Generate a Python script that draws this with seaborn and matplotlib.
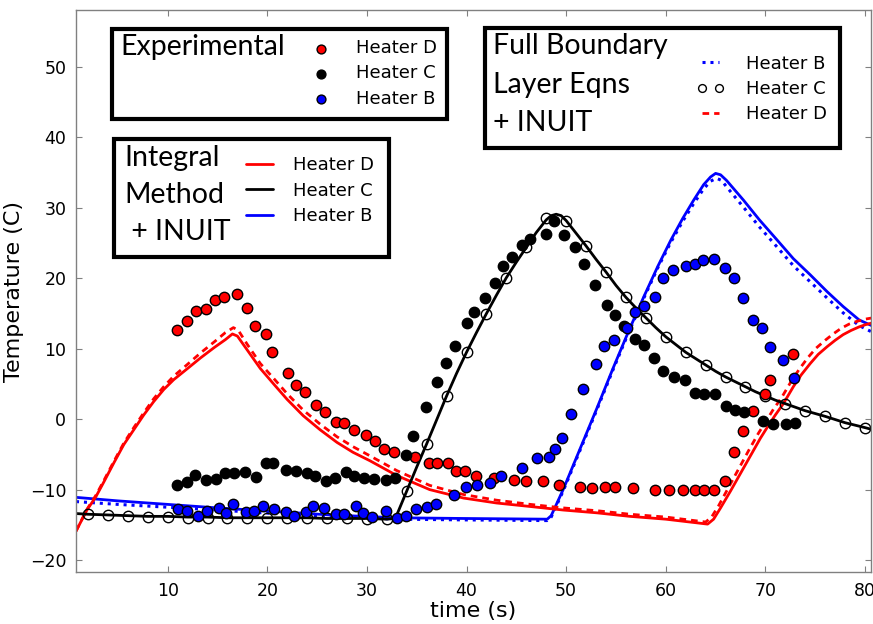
import matplotlib
matplotlib.use("Agg")
import matplotlib.pyplot as plt
from matplotlib.patches import Rectangle
import seaborn as sns

# --- experimental data (filled dots) ---
exp_d_t = [10.9, 11.9, 12.8, 13.8, 14.8, 15.7, 17.0, 18.0, 18.8, 19.9, 20.5, 22.1, 22.9, 23.8,
           24.9, 25.8, 26.9, 27.7, 28.7, 29.9, 30.8, 31.7, 32.7, 34.8, 36.2, 37.0, 38.1, 38.9,
           39.8, 41.0, 42.8, 44.8, 46.0, 47.7, 49.3, 51.4, 52.6, 53.9, 54.9, 56.7, 58.9, 60.3,
           61.7, 62.9, 63.8, 64.8, 65.9, 66.8, 67.8, 68.8, 70.0, 70.5, 72.8]
exp_d_T = [12.6, 13.9, 15.3, 15.6, 16.9, 17.4, 17.8, 15.8, 13.3, 12.1, 9.5, 6.5, 4.9, 3.8,
           2.0, 1.0, -0.4, -0.6, -1.5, -2.3, -3.1, -4.2, -4.6, -5.4, -6.2, -6.2, -6.2, -7.4,
           -7.4, -8.0, -8.4, -8.6, -8.8, -8.8, -9.4, -9.6, -9.8, -9.7, -9.6, -9.8, -10.0, -10.0,
           -10.0, -10.0, -10.0, -10.1, -8.8, -4.7, -1.7, 1.1, 3.6, 5.5, 9.3]

exp_c_t = [10.9, 11.9, 12.7, 13.8, 14.9, 15.8, 16.7, 17.8, 18.9, 19.9, 20.6, 21.9, 22.9, 24.0,
           24.8, 25.9, 26.8, 27.9, 28.7, 29.7, 30.7, 31.9, 32.8, 33.9, 34.6, 35.9, 37.0, 37.9,
           38.8, 40.0, 40.8, 41.9, 42.9, 43.7, 44.6, 45.6, 46.4, 48.0, 48.8, 49.8, 50.9, 51.8,
           52.9, 54.1, 54.9, 55.8, 56.9, 57.8, 58.8, 59.7, 60.8, 61.9, 62.9, 63.8, 64.9, 66.0,
           66.9, 67.9, 69.8, 70.8, 72.1, 73.0]
exp_c_T = [-9.4, -8.9, -7.9, -8.6, -8.5, -7.7, -7.7, -7.5, -8.2, -6.2, -6.2, -7.2, -7.4, -7.7,
           -8.1, -8.8, -8.4, -7.5, -8.0, -8.4, -8.5, -8.7, -8.3, -5.1, -2.4, 1.7, 5.3, 8.0,
           10.4, 13.6, 15.2, 17.2, 19.3, 21.8, 23.0, 24.7, 25.6, 26.3, 28.2, 26.1, 24.5, 22.0,
           19.1, 16.2, 14.8, 13.3, 11.4, 10.6, 8.7, 6.8, 6.0, 5.6, 3.7, 3.6, 3.6, 1.8,
           1.3, 1.0, -0.3, -0.7, -0.7, -0.5]

exp_b_t = [11.0, 11.9, 13.0, 13.9, 15.2, 15.9, 16.6, 17.9, 18.7, 19.6, 20.7, 21.9, 22.7, 23.9,
           24.6, 25.7, 26.9, 27.7, 28.9, 29.6, 30.5, 31.9, 33.0, 33.9, 34.9, 36.0, 36.9, 38.7,
           39.9, 41.1, 42.4, 43.5, 45.6, 47.1, 48.3, 48.9, 49.6, 50.5, 51.7, 53.0, 53.8, 54.8,
           56.1, 56.9, 57.8, 58.9, 59.7, 60.7, 62.0, 62.9, 63.7, 64.8, 65.9, 66.8, 67.8, 68.8,
           69.7, 70.5, 71.8, 72.9]
exp_b_T = [-12.8, -13.0, -13.7, -13.0, -12.6, -13.3, -12.1, -13.2, -13.1, -12.3, -12.7, -13.2,
           -13.7, -13.2, -12.3, -12.6, -13.5, -13.4, -12.3, -13.3, -13.9, -13.1, -14.0, -13.8,
           -12.7, -12.5, -12.1, -10.8, -9.7, -9.4, -9.1, -8.1, -6.9, -5.5, -5.4, -4.3, -2.7,
           0.7, 4.3, 7.8, 10.4, 11.2, 13.0, 15.2, 16.0, 17.3, 20.0, 21.2, 21.8, 22.1, 22.6,
           22.8, 21.5, 20.1, 17.2, 14.1, 13.0, 10.2, 8.4, 5.8]

# --- integral method + INUIT (solid lines) ---
int_d_t = [0.8, 1.9, 2.8, 3.6, 4.6, 5.6, 6.6, 7.6, 8.6, 9.6, 10.6, 12.0, 13.3, 14.7, 15.8, 16.5,
           17.0, 18.0, 19.3, 20.7, 22.0, 23.6, 25.3, 27.0, 28.6, 30.3, 33.0, 36.3, 39.7, 43.0,
           46.4, 49.7, 53.1, 56.4, 60.0, 64.2, 64.8, 65.5, 66.5, 67.5, 68.5, 69.5, 70.3, 71.0,
           71.8, 72.8, 73.6, 74.5, 75.3, 76.2, 77.0, 77.8, 78.6, 79.4, 80.0, 80.8]
int_d_T = [-15.9, -12.9, -11.0, -8.9, -6.2, -3.6, -1.5, 0.6, 2.5, 4.2, 5.6, 7.2, 8.7, 10.2, 11.3, 12.1,
           11.8, 9.8, 7.2, 4.9, 2.8, 0.5, -1.5, -3.3, -4.7, -5.9, -8.0, -10.0, -11.2, -11.9,
           -12.4, -12.9, -13.3, -13.8, -14.2, -14.9, -14.2, -12.6, -10.2, -7.7, -5.2, -2.7, -0.9, 0.6,
           2.2, 4.6, 6.3, 7.9, 9.2, 10.3, 11.2, 12.0, 12.6, 13.1, 13.4, 13.7]

int_c_t = [0.8, 2, 4, 6, 8, 10, 12, 14, 16, 18, 20, 22, 24, 26, 28, 30, 32, 32.8, 33, 34, 35, 36,
           37, 38, 39, 40, 41, 42, 43, 44, 45, 46, 47, 48, 48.5, 49, 49.5, 50, 51, 52, 53, 54,
           55, 56, 57, 58, 59, 60, 61, 62, 63, 64, 65, 66, 67, 68, 69, 70, 71, 72, 73, 74, 75,
           76, 77, 78, 79, 80, 80.8]
int_c_T = [-13.4, -13.5, -13.6, -13.7, -13.8, -13.8, -13.9, -13.9, -14.0, -14.0, -14.0, -14.0,
           -14.0, -14.1, -14.1, -14.1, -14.2, -14.1, -13.6, -10.2, -6.8, -3.5, -0.1, 3.3, 6.5,
           9.5, 12.3, 15.0, 17.6, 20.1, 22.3, 24.4, 26.5, 28.3, 28.9, 29.1, 28.9, 28.2, 26.4,
           24.6, 22.7, 20.9, 19.0, 17.3, 15.8, 14.4, 13.0, 11.7, 10.6, 9.5, 8.6, 7.7, 6.8, 6.0,
           5.3, 4.6, 3.9, 3.3, 2.7, 2.2, 1.7, 1.2, 0.8, 0.4, -0.05, -0.5, -0.85, -1.2, -1.5]

int_b_t = [0.8, 5, 10, 15, 20.7, 26.3, 33.0, 39.7, 48.1, 48.5, 49.7, 51.4, 53.1, 54.7, 56.3, 57.8,
           59.2, 60.5, 61.7, 62.8, 63.8, 64.5, 65.0, 65.5, 66.1, 67.8, 69.4, 71.2, 72.8, 74.5,
           76.2, 77.8, 79.4, 80.8]
int_b_T = [-11.1, -11.6, -12.1, -12.6, -13.1, -13.6, -14.0, -14.1, -14.2, -13.7, -10.0, -4.2, 1.6,
           7.2, 12.6, 17.4, 21.7, 25.4, 28.5, 31.1, 33.3, 34.4, 34.9, 34.7, 33.9, 31.1, 28.3,
           25.4, 22.8, 20.5, 18.1, 16.0, 14.1, 13.2]

# --- full boundary layer eqns + INUIT ---
fbl_b_t = [0.8, 5, 10, 15, 20.7, 26.3, 33.0, 39.7, 48.1, 48.5, 49.7, 51.4, 53.1, 54.7, 56.3, 57.8,
           59.2, 60.5, 61.7, 62.8, 63.8, 64.5, 65.1, 65.6, 66.1, 67.8, 69.4, 71.2, 72.8, 74.5,
           76.2, 77.8, 79.4, 80.8]
fbl_b_T = [-11.7, -12.1, -12.5, -12.9, -13.4, -13.8, -14.2, -14.3, -14.4, -13.9, -10.2, -4.4, 1.4,
           7.0, 12.4, 17.2, 21.5, 25.1, 28.1, 30.6, 32.7, 33.8, 34.2, 33.9, 33.0, 30.1, 27.3,
           24.4, 21.8, 19.5, 17.2, 15.1, 13.3, 12.3]

fbl_c_t = [2, 4, 6, 8, 10, 12, 14, 16, 18, 20, 22, 24, 26, 28, 30, 32, 34, 36, 38, 40, 42, 44,
           46, 48, 50, 52, 54, 56, 58, 60, 62, 64, 66, 68, 70, 72, 74, 76, 78, 80]
fbl_c_T = [-13.5, -13.6, -13.8, -13.9, -13.9, -14.0, -14.0, -14.0, -14.0, -14.0, -14.1, -14.1,
           -14.1, -14.1, -14.2, -14.2, -10.2, -3.5, 3.3, 9.5, 15.0, 20.1, 24.4, 28.5, 28.1, 24.6,
           20.9, 17.3, 14.4, 11.7, 9.5, 7.7, 6.0, 4.6, 3.3, 2.2, 1.2, 0.4, -0.5, -1.2]

fbl_d_t = [0.8, 1.9, 2.8, 3.6, 4.6, 5.6, 6.6, 7.6, 8.6, 9.6, 10.6, 12.0, 13.3, 14.7, 15.8, 16.6,
           17.1, 18.0, 19.3, 20.7, 22.0, 23.6, 25.3, 27.0, 28.6, 30.3, 33.0, 36.3, 39.7, 43.0,
           46.4, 49.7, 53.1, 56.4, 60.0, 64.0, 64.6, 65.3, 66.3, 67.3, 68.3, 69.3, 70.1, 70.8,
           71.6, 72.6, 73.4, 74.3, 75.1, 76.0, 76.8, 77.6, 78.4, 79.2, 80.0, 80.8]
fbl_d_T = [-15.9, -12.8, -10.8, -8.7, -6.0, -3.4, -1.2, 0.9, 2.9, 4.6, 6.1, 7.8, 9.4, 11.0, 12.3, 13.0,
           12.6, 10.6, 7.9, 5.7, 3.6, 1.3, -0.7, -2.5, -3.9, -5.2, -7.3, -9.4, -10.7, -11.5,
           -12.1, -12.6, -13.0, -13.5, -13.9, -14.6, -13.9, -12.3, -9.7, -7.1, -4.5, -2.0, -0.2, 1.4,
           3.0, 5.4, 7.1, 8.8, 10.1, 11.2, 12.1, 12.9, 13.5, 13.9, 14.2, 14.4]

sns.set_style("white")
plt.rcParams['font.family'] = ['DejaVu Sans']
plt.rcParams['text.color'] = 'black'
plt.rcParams['axes.labelcolor'] = 'black'

W, H = 873, 624
fig = plt.figure(figsize=(W / 100, H / 100), dpi=100)
ax = fig.add_axes([76 / W, 52 / H, 795 / W, 562 / H])


def fx(px):
    return px / W


def fy(py):
    return 1 - py / H


def line(t, T, **kw):
    sns.lineplot(x=t, y=T, ax=ax, sort=False, estimator=None, **kw)
    return ax.lines[-1]


def dots(t, T, c):
    sns.scatterplot(x=t, y=T, ax=ax, color=c, edgecolor='black', linewidth=1,
                    s=56, zorder=6)
    return ax.collections[-1]


# lines
hb_int = line(int_b_t, int_b_T, color='blue', lw=2)
hb_fbl = line(fbl_b_t, fbl_b_T, color='blue', lw=2.2, linestyle=(0, (1, 1.6)))
hd_int = line(int_d_t, int_d_T, color='red', lw=2)
hd_fbl = line(fbl_d_t, fbl_d_T, color='red', lw=2, linestyle=(0, (2.4, 1.8)))
hc_int = line(int_c_t, int_c_T, color='black', lw=2)
hc_fbl = line(fbl_c_t, fbl_c_T, color='black', linestyle='', marker='o', markersize=7.5,
              markerfacecolor='none', markeredgecolor='black', markeredgewidth=1)

# experimental dots
ed = dots(exp_d_t, exp_d_T, 'red')
ec = dots(exp_c_t, exp_c_T, 'black')
eb = dots(exp_b_t, exp_b_T, 'blue')

ax.set_xlim(0.8, 80.6)
ax.set_ylim(-21.7, 58.1)
ax.set_xticks([10, 20, 30, 40, 50, 60, 70, 80])
ax.set_yticks([-20, -10, 0, 10, 20, 30, 40, 50])
ax.tick_params(direction='in', length=4, color='#808080', labelsize=12.5,
               labelcolor='black', top=True, right=True, bottom=True, left=True, pad=7)
for sp in ax.spines.values():
    sp.set_color('#808080')
    sp.set_linewidth(1)
ax.set_xlabel('time (s)', fontsize=16, labelpad=1, color='black')
ax.set_ylabel('Temperature (C)', fontsize=16, labelpad=4, color='black')

# legend boxes
boxes = [(112, 29, 447, 119), (114, 139, 389, 257), (485, 28, 840, 148)]
for x0, y0, x1, y1 in boxes:
    ax.add_patch(Rectangle((fx(x0), fy(y1)), (x1 - x0) / W, (y1 - y0) / H,
                           transform=fig.transFigure, facecolor='white',
                           edgecolor='black', lw=3, zorder=10, clip_on=False))

titles = [(['Experimental'], 120, [55]),
          (['Integral', 'Method', ' + INUIT'], 124, [166, 203, 240]),
          (['Full Boundary', 'Layer Eqns', '+ INUIT'], 493, [54, 93, 131])]
for lines, x, ys in titles:
    for s, y in zip(lines, ys):
        ax.text(fx(x), fy(y), s, transform=fig.transFigure, fontsize=20.5,
                family=['Lato', 'DejaVu Sans'], va='baseline', ha='left', zorder=13)

common = dict(frameon=False, fontsize=13, loc='center left', borderaxespad=0,
              borderpad=0, bbox_transform=fig.transFigure, labelspacing=0.4)
leg1 = ax.legend([ed, ec, eb], ['Heater D', 'Heater C', 'Heater B'], scatterpoints=1,
                 handlelength=1.5, handletextpad=1.2, markerscale=0.85,
                 bbox_to_anchor=(fx(307), fy(73.5)), **common)
leg1.set_zorder(12)
ax.add_artist(leg1)
leg2 = ax.legend([hd_int, hc_int, hb_int], ['Heater D', 'Heater C', 'Heater B'],
                 handlelength=1.5, handletextpad=1.1,
                 bbox_to_anchor=(fx(246), fy(190.7)), **common)
leg2.set_zorder(12)
ax.add_artist(leg2)
leg3 = ax.legend([hb_fbl, hc_fbl, hd_fbl], ['Heater B', 'Heater C', 'Heater D'],
                 numpoints=2, handlelength=1.5, handletextpad=1.2, markerscale=0.75,
                 bbox_to_anchor=(fx(697), fy(89)), **common)
leg3.set_zorder(12)

fig.savefig('out.png', dpi=100)
